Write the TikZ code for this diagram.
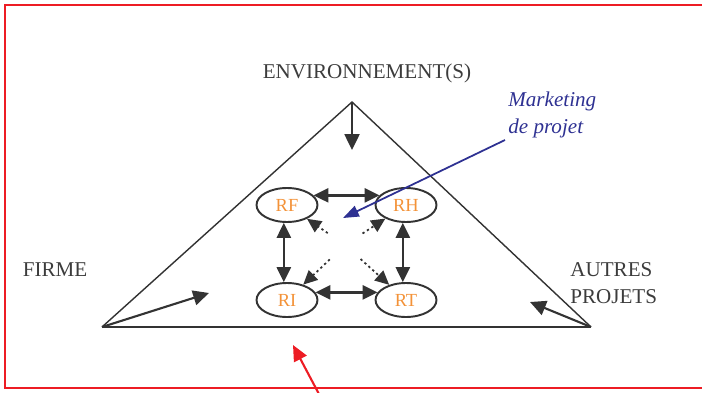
\documentclass[tikz,border=0pt]{standalone}
\usepackage{fontspec}
\setmainfont{Liberation Serif}
\usepackage{tikz}
\usetikzlibrary{arrows.meta,shapes.geometric,calc}
\definecolor{darkline}{RGB}{51,51,51}
\definecolor{framered}{RGB}{237,28,36}
\definecolor{ink}{RGB}{46,49,146}
\definecolor{resorange}{RGB}{243,146,56}
\definecolor{labelgray}{RGB}{60,60,60}

\begin{document}
\begin{tikzpicture}[x=0.02cm,y=-0.02cm,
    res/.style={ellipse,draw=darkline,line width=1.1pt,minimum width=1.22cm,minimum height=0.68cm,inner sep=0pt,text=resorange,font=\fontsize{10.5}{12}\selectfont},
    lbl/.style={text=labelgray,font=\fontsize{12}{15.3}\selectfont,inner sep=0pt},
    bigtip/.style={-{Triangle[length=9pt,width=8.5pt]},darkline,line width=1.2pt},
    dbl/.style={{Triangle[length=8.5pt,width=8pt]}-{Triangle[length=8.5pt,width=8pt]},darkline,line width=1.4pt},
    dotarr/.style={-{Triangle[length=8pt,width=7.5pt]},darkline,line width=1pt,dash pattern=on 1.3pt off 1.7pt}]
    \useasboundingbox (0,0) rectangle (702,392);
    \clip (0,0) rectangle (702,392);

    % Frame
    \draw[framered,line width=1.2pt] (720,5) -- (5,5) -- (5,388) -- (720,388);

    % Triangle
    \coordinate (top) at (352,102);
    \coordinate (lcorner) at (102,327);
    \coordinate (rcorner) at (591,327);
    \draw[darkline,line width=0.8pt] (lcorner) -- (top) -- (rcorner);
    \draw[darkline,line width=1.6pt] (lcorner) -- (rcorner);

    % Labels
    \node[lbl] (env) at (367,73) {ENVIRONNEMENT(S)};
    \node[lbl] (firme) at (55,270) {FIRME};
    \node[lbl,align=left,anchor=west] (autres) at (570,283) {AUTRES\\PROJETS};
    \node[lbl,text=ink,align=left,anchor=west,font=\fontsize{12}{15.3}\selectfont\itshape] (mkt) at (508,115) {Marketing\\de projet};

    % Resources
    \node[res] (rf) at (287,205) {RF};
    \node[res] (rh) at (406,205) {RH};
    \node[res] (ri) at (287,300) {RI};
    \node[res] (rt) at (406,300) {RT};

    \draw[dbl] (rf.20) -- (rh.160);
    \draw[dbl] (ri.15) -- (rt.165);
    \draw[dbl] (rf.-100) -- (ri.100);
    \draw[dbl] (rh.-100) -- (rt.100);

    \coordinate (mid) at (345,245);
    \foreach \r in {rf,rh,ri,rt}
        \draw[dotarr,shorten <=0.42cm] (mid) -- (\r);

    % Outer arrows
    \coordinate (envtip) at (352,150);
    \coordinate (firmetip) at (209,293);
    \coordinate (autrestip) at (530,302);
    \draw[bigtip] (top) -- (envtip);
    \draw[bigtip] (lcorner) -- (firmetip);
    \draw[bigtip] (rcorner) -- (autrestip);

    \coordinate (mktfoot) at (505,140);
    \coordinate (mkttip) at (343,218);
    \draw[-{Triangle[length=9pt,width=6.5pt]},ink,line width=1pt] (mktfoot) -- (mkttip);

    \coordinate (redfoot) at (320,396);
    \coordinate (redtip) at (293,345);
    \draw[-{Triangle[length=9pt,width=8pt]},framered,line width=1.2pt] (redfoot) -- (redtip);
\end{tikzpicture}
\end{document}
